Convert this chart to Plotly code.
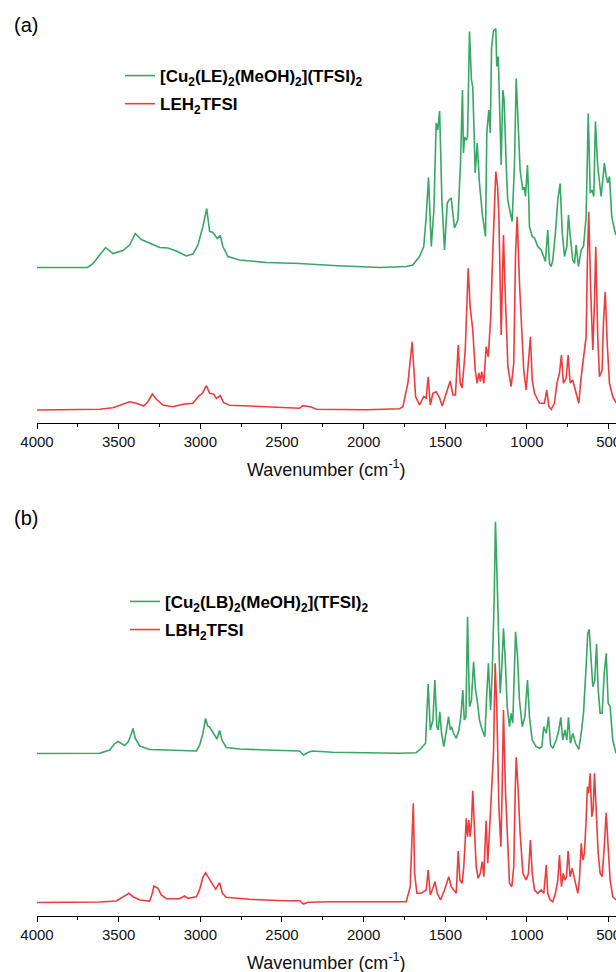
import plotly.graph_objects as go

# ---------------- data (wavenumber cm-1, relative absorbance a.u.) ----------------
# Panel (a) – green: [Cu2(LE)2(MeOH)2](TFSI)2
GA_WN = [4000,3690,3657,3616,3580,3535,3474,3433,3398,3361,3290,3249,3198,3147,3086,3045,3015,2984,2961,2943,
         2923,2896,2878,2862,2831,2760,2596,2392,2188,1984,1903,1739,1699,1658,1632,1617,1603,1586,1570,1556,
         1546,1535,1521,1505,1488,1477,1464,1444,1423,1407,1401,1395,1389,1382,1372,1364,1352,1340,1332,1317,
         1305,1291,1273,1254,1246,1234,1225,1217,1205,1197,1191,1185,1176,1168,1158,1148,1140,1127,1118,1091,
         1077,1066,1054,1042,1026,1017,1009,997,989,985,968,954,934,913,887,873,862,852,842,826,
         811,797,784,770,756,746,736,720,709,699,685,668,654,638,625,613,601,591,581,567,
         546,526,515,505,495,485,481,464,455]
GA_AB = [0,0,0.04,0.125,0.20,0.14,0.17,0.225,0.34,0.28,0.225,0.20,0.195,0.165,0.115,0.135,0.225,0.41,0.59,0.36,
         0.35,0.29,0.32,0.21,0.11,0.075,0.05,0.04,0.02,0.01,0,0.01,0.025,0.11,0.21,0.51,0.90,0.21,0.575,1.445,
         1.375,1.565,0.675,0.175,0.645,0.675,0.695,0.395,0.475,1.045,1.345,1.775,1.145,1.305,1.275,1.305,2.36,1.875,1.805,0.945,
         1.245,0.845,0.525,0.31,1.345,1.575,1.345,2.195,2.37,2.375,2.39,2.01,2.11,1.51,1.025,1.775,1.675,1.01,0.675,0.46,
         1.01,1.89,1.445,0.975,0.775,0.805,0.71,1.025,0.675,0.41,0.31,0.295,0.21,0.175,0.06,0.375,0.04,0.01,0.075,0.345,
         0.68,0.84,0.345,0.11,0.21,0.525,0.325,0.075,0.04,0.225,0.01,0.175,0.21,0.51,1.54,0.745,0.775,0.71,1.46,1.01,
         0.71,1.045,0.91,0.845,0.91,0.675,0.51,0.375,0.325]

# Panel (a) – red: LEH2TFSI
RA_WN = [4000,3616,3535,3474,3433,3392,3347,3321,3294,3269,3229,3168,3106,3045,3010,2988,2963,2943,2919,2902,
         2878,2857,2821,2698,2494,2392,2372,2321,2290,1984,1780,1760,1729,1703,1682,1658,1632,1617,1605,1592,
         1576,1556,1535,1519,1494,1470,1454,1438,1421,1409,1397,1378,1360,1348,1332,1317,1305,1295,1285,1277,
         1264,1250,1237,1222,1209,1199,1191,1180,1172,1158,1144,1132,1117,1097,1081,1070,1060,1046,1029,1020,
         1005,991,979,968,954,923,893,879,866,852,832,817,801,789,777,760,748,736,720,699,
         683,668,654,638,630,622,610,597,587,579,567,556,540,532,521,509,495,475,455]
RA_AB = [0,0.007,0.023,0.06,0.083,0.067,0.04,0.083,0.16,0.107,0.05,0.033,0.057,0.067,0.14,0.167,0.243,0.167,0.16,0.117,
         0.143,0.073,0.047,0.04,0.023,0.017,0.043,0.03,0.007,0.003,0.013,0.033,0.27,0.683,0.133,0.05,0.133,0.12,0.333,0.05,
         0.167,0.183,0.12,0.04,0.17,0.29,0.15,0.15,0.65,0.27,0.22,0.6,1.417,1.033,0.8,0.4,0.267,0.37,0.283,0.383,
         0.267,0.633,0.533,0.933,1.6,2.067,2.383,2.233,1.933,0.75,1.75,1.1,0.433,0.233,0.467,1.567,1.933,1.27,0.67,0.4,
         0.2,0.5,0.733,0.3,0.167,0.067,0.067,0.2,0.033,0.007,0.067,0.267,0.37,0.55,0.267,0.32,0.55,0.27,0.3,0.167,
         0.067,0.333,0.5,0.733,1.5,1.983,1.2,0.6,1.067,1.633,0.733,0.333,0.4,0.867,1.183,0.67,0.27,0.133,0.073]

# Panel (b) – green: [Cu2(LB)2(MeOH)2](TFSI)2
GB_WN = [4000,3616,3555,3524,3504,3463,3443,3428,3412,3398,3371,3310,3208,3024,3004,2984,2968,2955,2943,2923,
         2898,2882,2868,2841,2760,2596,2392,2368,2341,2315,2188,1780,1678,1648,1621,1605,1592,1576,1564,1552,
         1543,1534,1523,1509,1494,1480,1470,1462,1450,1433,1417,1405,1393,1384,1374,1364,1352,1340,1327,1315,
         1305,1291,1274,1258,1246,1236,1223,1213,1201,1193,1185,1174,1164,1154,1144,1133,1121,1107,1097,1087,
         1078,1070,1058,1046,1029,1013,997,985,968,944,923,909,897,882,868,856,842,821,805,793,
         781,768,756,746,734,720,703,683,668,654,638,628,619,607,597,585,574,564,552,540,
         527,515,503,491,475,455]
GB_AB = [0,0.002,0.035,0.10,0.12,0.08,0.115,0.17,0.25,0.15,0.075,0.04,0.035,0.025,0.085,0.2,0.35,0.275,0.265,0.21,
         0.145,0.23,0.135,0.06,0.045,0.035,0.025,-0.015,0.01,0.025,0.012,0.002,0.008,0.052,0.102,0.695,0.235,0.335,0.735,0.268,
         0.235,0.418,0.202,0.068,0.202,0.368,0.235,0.268,0.202,0.152,0.235,0.368,0.635,0.335,0.368,1.368,0.468,0.535,0.918,0.635,
         0.535,0.335,0.235,0.168,0.602,0.902,0.435,0.802,1.535,2.318,1.868,1.035,0.602,0.868,1.252,0.935,0.468,0.268,0.402,0.305,
         0.868,1.218,0.968,0.535,0.268,0.368,0.735,0.368,0.135,0.068,0.052,0.068,0.268,0.202,0.368,0.085,0.052,0.135,0.235,0.362,
         0.135,0.235,0.135,0.362,0.102,0.202,0.102,0.042,0.202,0.402,0.868,1.202,1.242,0.935,0.668,0.735,1.095,0.635,0.402,0.402,
         0.802,1.002,0.502,0.468,0.135,0.002]

# Panel (b) – red: LBH2TFSI
RB_WN = [4000,3616,3514,3463,3437,3412,3371,3310,3294,3284,3259,3239,3208,3127,3096,3076,3024,3004,2984,2968,
         2951,2933,2906,2882,2865,2841,2698,2494,2392,2368,2341,2188,1780,1739,1715,1696,1688,1674,1648,1632,
         1617,1605,1592,1576,1564,1549,1529,1505,1479,1464,1450,1433,1421,1411,1397,1387,1378,1372,1364,1356,
         1348,1340,1332,1321,1311,1299,1286,1274,1264,1258,1250,1240,1229,1217,1205,1195,1185,1172,1160,1152,
         1144,1132,1121,1107,1093,1081,1072,1066,1054,1042,1025,1005,991,979,968,954,934,913,897,882,
         873,858,842,826,811,801,789,778,769,758,748,736,723,709,689,679,668,658,648,638,
         630,622,613,603,595,587,576,564,552,540,527,515,503,491,475,455]
RB_AB = [0,0.005,0.015,0.065,0.092,0.058,0.025,0.015,0.092,0.165,0.142,0.075,0.038,0.038,0.065,0.042,0.058,0.132,0.252,0.298,
         0.252,0.192,0.132,0.198,0.092,0.052,0.032,0.018,0.018,-0.015,0.002,0.008,0.008,0.008,0.158,0.992,0.292,0.092,0.092,0.108,
         0.125,0.325,0.075,0.142,0.208,0.092,0.025,0.125,0.258,0.158,0.125,0.092,0.515,0.225,0.192,0.358,0.625,0.842,0.658,0.825,
         0.658,0.792,1.118,0.692,0.358,0.242,0.292,0.408,0.258,0.525,0.818,0.392,0.758,1.125,1.492,2.392,1.958,0.958,0.558,1.125,
         1.925,1.125,0.625,0.192,0.158,0.358,1.125,1.452,1.125,0.692,0.292,0.225,0.292,0.625,0.292,0.125,0.092,0.125,0.092,0.375,
         0.092,0.025,0.008,0.092,0.225,0.475,0.158,0.292,0.225,0.258,0.515,0.258,0.342,0.225,0.092,0.225,0.592,0.425,0.492,0.825,
         1.158,1.092,1.292,0.858,0.925,1.292,0.858,0.492,0.292,0.258,0.558,0.898,0.558,0.225,0.058,0.025]

NAME_GA = "[Cu<sub>2</sub>(LE)<sub>2</sub>(MeOH)<sub>2</sub>](TFSI)<sub>2</sub>"
NAME_RA = "LEH<sub>2</sub>TFSI"
NAME_GB = "[Cu<sub>2</sub>(LB)<sub>2</sub>(MeOH)<sub>2</sub>](TFSI)<sub>2</sub>"
NAME_RB = "LBH<sub>2</sub>TFSI"

X_TICKS = [4000, 3500, 3000, 2500, 2000, 1500, 1000, 500]

# vertical stacking offsets (a.u.)
OFF_GA, OFF_RA = 1.555, 0.13
OFF_GB, OFF_RB = 1.625, 0.135

for lst in [(GA_WN, GA_AB), (RA_WN, RA_AB), (GB_WN, GB_AB), (RB_WN, RB_AB)]:
    assert len(lst[0]) == len(lst[1]), (len(lst[0]), len(lst[1]))

GREEN = "#37a765"
RED = "#ee3b3d"
FONT = "Liberation Sans, Arial, sans-serif"

fig = go.Figure()
fig.add_trace(go.Scatter(x=GA_WN, y=[v + OFF_GA for v in GA_AB], mode="lines", name=NAME_GA,
                         line=dict(color=GREEN, width=1.6), xaxis="x", yaxis="y",
                         legend="legend", legendgroup="ga"))
fig.add_trace(go.Scatter(x=RA_WN, y=[v + OFF_RA for v in RA_AB], mode="lines", name=NAME_RA,
                         line=dict(color=RED, width=1.6), xaxis="x", yaxis="y",
                         legend="legend", legendgroup="ra"))
fig.add_trace(go.Scatter(x=GB_WN, y=[v + OFF_GB for v in GB_AB], mode="lines", name=NAME_GB,
                         line=dict(color=GREEN, width=1.6), xaxis="x2", yaxis="y2",
                         legend="legend2", legendgroup="gb"))
fig.add_trace(go.Scatter(x=RB_WN, y=[v + OFF_RB for v in RB_AB], mode="lines", name=NAME_RB,
                         line=dict(color=RED, width=1.6), xaxis="x2", yaxis="y2",
                         legend="legend2", legendgroup="rb"))

xcommon = dict(range=[4000, 455], showline=True, linecolor="#000", linewidth=1.3,
               ticks="outside", ticklen=5, tickwidth=1.3, tickcolor="#000",
               tickvals=X_TICKS, ticktext=[str(t) for t in X_TICKS],
               ticklabeloverflow="allow",
               minor=dict(ticks="outside", ticklen=3, tickwidth=1.3, tickcolor="#000", dtick=250, tick0=0),
               showgrid=False, zeroline=False, automargin=False,
               tickfont=dict(family=FONT, size=15, color="#111"))

legcommon = dict(font=dict(family=FONT, size=17, color="#000", weight="bold"),
                 bgcolor="rgba(0,0,0,0)", borderwidth=0, tracegroupgap=3,
                 xanchor="left", yanchor="top", traceorder="grouped")

fig.update_layout(
    width=616, height=972,
    margin=dict(l=37, r=0, t=0, b=0),
    paper_bgcolor="white", plot_bgcolor="white",
    xaxis=dict(domain=[0, 1], anchor="y", **xcommon),
    yaxis=dict(domain=[0.5648, 1.0], range=[0, 4.23], visible=False),
    xaxis2=dict(domain=[0, 1], anchor="y2", **xcommon),
    yaxis2=dict(domain=[0.0576, 0.4856], range=[0, 4.16], visible=False),
    legend=dict(x=0.1434, y=0.9403, **legcommon),
    legend2=dict(x=0.152, y=0.3993, **legcommon),
    showlegend=True,
    annotations=[
        dict(text="(a)", x=-0.043, y=0.9743, xref="paper", yref="paper", xanchor="left", yanchor="middle",
             showarrow=False, font=dict(family=FONT, size=20, color="#000")),
        dict(text="(b)", x=-0.043, y=0.4671, xref="paper", yref="paper", xanchor="left", yanchor="middle",
             showarrow=False, font=dict(family=FONT, size=20, color="#000")),
        dict(text="Wavenumber (cm<sup>-1</sup>)", x=0.5, y=0.5175, xref="paper", yref="paper",
             xanchor="center", yanchor="middle", showarrow=False,
             font=dict(family=FONT, size=18, color="#111")),
        dict(text="Wavenumber (cm<sup>-1</sup>)", x=0.5, y=0.0103, xref="paper", yref="paper",
             xanchor="center", yanchor="middle", showarrow=False,
             font=dict(family=FONT, size=18, color="#111")),
    ],
)

fig.write_html("out.html", config={"displayModeBar": False},
               post_script="document.body.style.margin='0px';document.body.style.padding='0px';")
